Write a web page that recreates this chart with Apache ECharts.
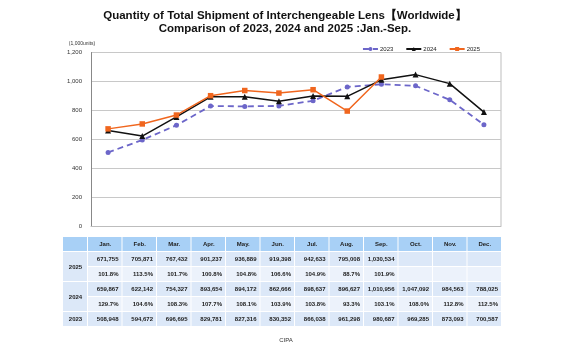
<!DOCTYPE html>
<html><head><meta charset="utf-8">
<script src="https://cdn.jsdelivr.net/npm/echarts@6/dist/echarts.min.js"></script>
<style>html,body{margin:0;padding:0;background:#fff}#c{width:573px;height:353px}</style>
</head><body><div id="c"></div>
<script>
var months = ['Jan.','Feb.','Mar.','Apr.','May.','Jun.','Jul.','Aug.','Sep.','Oct.','Nov.','Dec.'];
var y2023 = [508948,594672,696695,829781,827316,830352,866038,961298,980687,969285,873093,700587];
var y2024 = [659867,622142,754327,893654,894172,862666,898637,896627,1010956,1047092,984563,788025];
var y2025 = [671755,705871,767432,901237,936889,919398,942633,795008,1030534];
var pct2024 = ['129.7%','104.6%','108.3%','107.7%','108.1%','103.9%','103.8%','93.3%','103.1%','108.0%','112.8%','112.5%'];
var pct2025 = ['101.8%','113.5%','101.7%','100.8%','104.8%','106.6%','104.9%','88.7%','101.9%'];
var yTicks = [0,200,400,600,800,1000,1200];

function k(a){return a.map(function(v){return v/1000;});}
function fmt(v){return v.toLocaleString('en-US');}

var chart = echarts.init(document.getElementById('c'));
var F = 'Liberation Sans, Arial, sans-serif';

// table graphics
var g = [];
var tx0 = 63, labW = 25, colW = 34.5, rowH = 15;
var rowsY = [237, 252, 267, 282, 297, 312];
var cHead = '#a8d0f6', cVal = '#dce8f8', cPct = '#ecf2fb';
function rect(x,y,w,h,c){g.push({type:'rect',shape:{x:x,y:y,width:w,height:h},style:{fill:c},silent:true});}
function txt(x,y,s,align){g.push({type:'text',x:x,y:y,style:{text:s,fill:'#222',font:'bold 6px '+F,align:align,verticalAlign:'middle'},silent:true});}
// header
rect(tx0,rowsY[0],labW-1,rowH-1,cHead);
months.forEach(function(m,i){var x=tx0+labW+i*colW;rect(x,rowsY[0],colW-1,rowH-1,cHead);txt(x+colW/2,rowsY[0]+7,m,'center');});
// label column
rect(tx0,rowsY[1],labW-1,2*rowH-1,cVal); txt(tx0+labW/2,rowsY[1]+rowH,'2025','center');
rect(tx0,rowsY[3],labW-1,2*rowH-1,cVal); txt(tx0+labW/2,rowsY[3]+rowH,'2024','center');
rect(tx0,rowsY[5],labW-1,rowH-1,cVal); txt(tx0+labW/2,rowsY[5]+7,'2023','center');
var rows = [
  {y:rowsY[1],c:cVal,d:y2025.map(fmt)},
  {y:rowsY[2],c:cPct,d:pct2025},
  {y:rowsY[3],c:cVal,d:y2024.map(fmt)},
  {y:rowsY[4],c:cPct,d:pct2024},
  {y:rowsY[5],c:cVal,d:y2023.map(fmt)}
];
rows.forEach(function(r){
  months.forEach(function(m,i){
    var x=tx0+labW+i*colW;
    rect(x,r.y,colW-1,rowH-1,r.c);
    if(r.d[i]!==undefined) txt(x+colW-4,r.y+7,r.d[i],'right');
  });
});
g.push({type:'text',x:286,y:340,style:{text:'CIPA',fill:'#333',font:'6px '+F,align:'center',verticalAlign:'middle'},silent:true});
g.push({type:'text',x:82,y:44,style:{text:'(1,000units)',fill:'#333',font:'5px '+F,align:'center',verticalAlign:'middle'},silent:true});
// plot frame top/right
g.push({type:'polyline',shape:{points:[[91,52.5],[501,52.5],[501,226]]},style:{stroke:'#bdbdbd',lineWidth:1,fill:null},silent:true});

chart.setOption({
  animation:false,
  title:{text:'Quantity of Total Shipment of Interchengeable Lens【Worldwide】\nComparison of 2023, 2024 and 2025 :Jan.-Sep.',left:280,textAlign:'center',top:4,
    textStyle:{fontFamily:F,fontWeight:'bold',fontSize:11.5,lineHeight:13.5,color:'#111'}},
  legend:{right:88,top:41,itemWidth:15,itemHeight:5,itemGap:12,
    textStyle:{fontFamily:F,fontSize:6,color:'#222',padding:[0,0,0,-3]},data:['2023','2024','2025']},
  grid:{left:91,right:72,top:52.5,bottom:127},
  xAxis:{type:'category',data:months,boundaryGap:true,axisLine:{show:true,lineStyle:{color:'#bdbdbd'}},axisTick:{show:false},axisLabel:{show:false}},
  yAxis:{type:'value',min:0,max:1200,interval:200,
    axisLine:{show:true,lineStyle:{color:'#888'}},axisTick:{show:false},
    splitLine:{lineStyle:{color:'#c8c8c8',width:1}},
    axisLabel:{fontFamily:F,fontSize:6,color:'#333',margin:9,formatter:function(v){return fmt(v);}}},
  series:[
    {name:'2023',type:'line',data:k(y2023),symbol:'circle',symbolSize:5,lineStyle:{color:'#6c66c9',width:1.8,type:[6,4]},itemStyle:{color:'#6c66c9'},z:2},
    {name:'2024',type:'line',data:k(y2024),symbol:'triangle',symbolSize:6,lineStyle:{color:'#111',width:1.5},itemStyle:{color:'#111'},z:3},
    {name:'2025',type:'line',data:k(y2025),symbol:'rect',symbolSize:5.5,lineStyle:{color:'#f0661e',width:1.5},itemStyle:{color:'#f0661e'},z:4}
  ],
  graphic:g
});
</script></body></html>
